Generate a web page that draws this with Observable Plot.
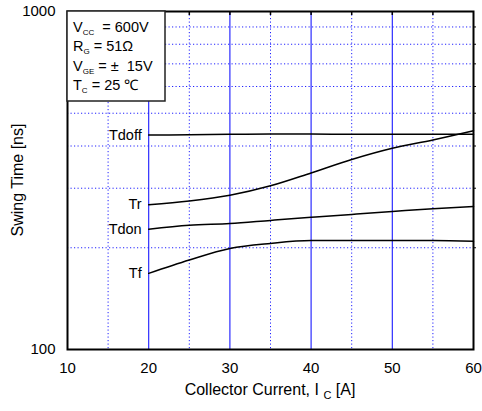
<!DOCTYPE html>
<html>
<head>
<meta charset="utf-8">
<script src="https://cdn.jsdelivr.net/npm/d3@7"></script>
<script src="https://cdn.jsdelivr.net/npm/@observablehq/plot@0.6"></script>
<style>
  html, body { margin: 0; padding: 0; background: #fff; }
  #chart svg { display: block; }
</style>
</head>
<body>
<div id="chart"></div>
<script>
// ---- data ----
const current = [20, 25, 30, 35, 40, 45, 50, 55, 60];
const tdoff = [431, 432, 433, 434, 434, 433, 433, 433, 433];
const tr    = [268, 275, 286, 305, 333, 365, 394, 417, 444];
const tdon  = [227, 233, 236, 241, 246, 251, 256, 261, 265];
const tf    = [168, 184, 199, 206, 210, 210, 210, 210, 209];
const seriesNames = ["Tdoff", "Tr", "Tdon", "Tf"];
const seriesValues = [tdoff, tr, tdon, tf];

const xTicks = [10, 20, 30, 40, 50, 60];
const xMajorGrid = [20, 30, 40, 50];
const xMinorGrid = [15, 25, 35, 45, 55];
const yTicks = [100, 1000];
const yGrid = [200, 300, 400, 500, 600, 700, 800, 900];

const legendLines = [
  ["V", "CC", "  = 600V"],
  ["R", "G", " = 51Ω"],
  ["V", "GE", " = ±  15V"],
  ["T", "C", " = 25 ℃"]
];

(function () {
const rows = [];
seriesNames.forEach((name, i) => {
  current.forEach((c, j) => rows.push({name, I: c, t: seriesValues[i][j]}));
});
const labelRows = seriesNames.map((name, i) => ({name, I: current[0], t: seriesValues[i][0]}));

const font = "'Liberation Sans', Arial, sans-serif";

const plot = Plot.plot({
  width: 482,
  height: 411,
  marginLeft: 67,
  marginRight: 9,
  marginTop: 11,
  marginBottom: 62,
  style: {fontFamily: font, fontSize: "15px", color: "#000", background: "#fff"},
  x: {domain: [10, 60]},
  y: {type: "log", domain: [100, 1000]},
  marks: [
    Plot.ruleY(yGrid, {stroke: "#2020ff", strokeWidth: 1, strokeDasharray: "1.2,2.3"}),
    Plot.ruleX(xMinorGrid, {stroke: "#2020ff", strokeWidth: 1, strokeDasharray: "1.2,2.3"}),
    Plot.ruleX(xMajorGrid, {stroke: "#1a1aff", strokeWidth: 1.1}),
    Plot.line(rows, {x: "I", y: "t", z: "name", stroke: "#000", strokeWidth: 1.5, curve: "monotone-x"}),
    Plot.text(labelRows, {x: "I", y: "t", text: "name", textAnchor: "end", dx: -7, fontSize: 14.5, fill: "#000"}),
    Plot.axisX({ticks: xTicks, tickSize: 0, tickPadding: 13, label: null, tickFormat: d => String(d)}),
    Plot.axisX({anchor: "top", ticks: xMinorGrid.concat(xMajorGrid), tickSize: -3, tickFormat: () => "", label: null, strokeWidth: 1.5}),
    Plot.axisY({ticks: yTicks, tickSize: 0, tickPadding: 12, label: null, tickFormat: d => String(d)}),
    Plot.axisY({anchor: "right", ticks: yGrid, tickSize: 2, tickFormat: () => "", label: null}),
    Plot.frame({stroke: "#000", strokeWidth: 2})
  ]
});

document.getElementById("chart").appendChild(plot);

// ---- annotations: legend box and axis titles ----
const svg = d3.select(plot);
const sx = plot.scale("x"), sy = plot.scale("y");
const fLeft = sx.apply(10), fRight = sx.apply(60);
const fTop = sy.apply(1000), fBottom = sy.apply(100);

const g = svg.append("g").attr("font-family", font).attr("fill", "#000").attr("text-anchor", "start");
g.append("rect")
  .attr("x", fLeft).attr("y", fTop)
  .attr("width", 98).attr("height", 90)
  .attr("fill", "#fff").attr("stroke", "#222").attr("stroke-width", 1.5);
legendLines.forEach((ln, i) => {
  const t = g.append("text")
    .attr("x", fLeft + 6)
    .attr("y", fTop + 20.7 + i * 19.4)
    .attr("font-size", 14.5)
    .attr("text-anchor", "start")
    .style("white-space", "pre");
  t.append("tspan").text(ln[0]);
  t.append("tspan").attr("font-size", 8).attr("dy", 3).text(ln[1]);
  t.append("tspan").attr("dy", -3).text(ln[2]);
});

// x axis title with subscript
const xt = g.append("text")
  .attr("x", (fLeft + fRight) / 2)
  .attr("y", fBottom + 46)
  .attr("text-anchor", "middle")
  .attr("font-size", 16)
  .style("white-space", "pre");
xt.append("tspan").text("Collector Current, I ");
xt.append("tspan").attr("font-size", 11).attr("dy", 4).text("C");
xt.append("tspan").attr("dy", -4).text(" [A]");

// y axis title
g.append("text")
  .attr("transform", `translate(23,${(fTop + fBottom) / 2}) rotate(-90)`)
  .attr("text-anchor", "middle")
  .attr("font-size", 16)
  .text("Swing Time [ns]");
})();
</script>
</body>
</html>
